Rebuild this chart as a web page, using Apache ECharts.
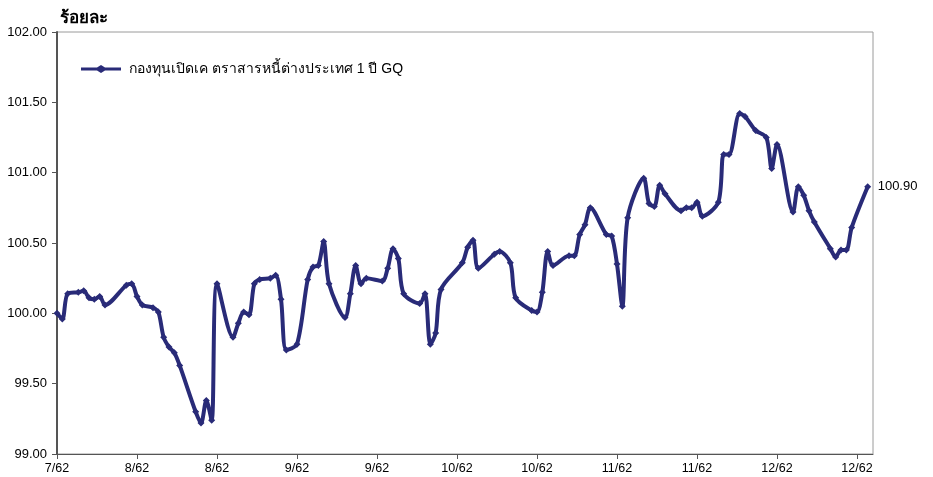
<!DOCTYPE html>
<html>
<head>
<meta charset="utf-8">
<script src="https://cdn.jsdelivr.net/npm/echarts@6/dist/echarts.min.js"></script>
<style>
html,body{margin:0;padding:0;background:#fff;}
#chart{width:933px;height:477px;}
</style>
</head>
<body>
<div id="chart"></div>
<script>
// Start of x scale (first tick) and tick step in days
const startDate = '2019-07-20';
const tickLabels = ['7/62','8/62','8/62','9/62','9/62','10/62','10/62','11/62','11/62','12/62','12/62'];

// Days after startDate of each observation
const dayOffsets = [
  0,1,2,4,5,6,7,8,9,13,14,15,16,18,19,20,21,22,23,26,27,28,29,30,
  33,34,35,36,37,38,40,41,42,43,45,47,48,49,50,51,54,55,56,57,58,
  61,62,63,64,65,68,69,70,71,72,76,77,78,79,82,83,85,86,89,90,91,92,93,
  96,97,98,99,100,103,104,105,106,107,110,111,112,113,114,117,118,119,120,121,
  124,125,126,128,129,131,133,134,135,138,139,140,141,142,145,146,147,148,149,152
];
const navValues = [
  100.00,99.96,100.14,100.15,100.16,100.11,100.10,100.12,100.06,100.20,100.21,100.12,100.06,100.04,100.01,99.83,99.76,99.72,99.63,99.30,99.22,99.38,99.24,100.21,
  99.83,99.93,100.01,99.99,100.21,100.24,100.25,100.27,100.10,99.74,99.78,100.24,100.33,100.34,100.51,100.21,99.97,100.14,100.34,100.21,100.25,
  100.23,100.32,100.46,100.39,100.14,100.07,100.14,99.78,99.86,100.17,100.36,100.47,100.52,100.32,100.42,100.44,100.36,100.11,100.02,100.01,100.15,100.44,100.34,
  100.41,100.41,100.56,100.63,100.75,100.56,100.55,100.35,100.05,100.68,100.96,100.78,100.76,100.91,100.85,100.73,100.75,100.75,100.79,100.69,
  100.79,101.13,101.13,101.42,101.40,101.30,101.25,101.03,101.20,100.72,100.90,100.84,100.73,100.65,100.46,100.40,100.45,100.45,100.61,100.90
];
const seriesName = 'กองทุนเปิดเค ตราสารหนี้ต่างประเทศ 1 ปี GQ';
const yTitle = 'ร้อยละ';

const DAY_STEP = 15;
const X_MAX = 153;
const base = Date.parse(startDate + 'T00:00:00Z');
const dates = dayOffsets.map(d => new Date(base + d * 86400000).toISOString().slice(0, 10));
const points = dates.map((s, i) => [(Date.parse(s + 'T00:00:00Z') - base) / 86400000, navValues[i]]);

const navy = '#292b78';
const font = 'Liberation Sans, Arial, sans-serif';

const chart = echarts.init(document.getElementById('chart'));
chart.setOption({
  animation: false,
  backgroundColor: '#fff',
  textStyle: { fontFamily: font },
  title: {
    text: yTitle,
    left: 55, top: 5,
    textStyle: { fontSize: 17, fontWeight: 'bold', color: '#000', fontFamily: font }
  },
  legend: {
    left: 76, top: 57,
    itemWidth: 40, itemHeight: 14, itemGap: 10,
    textStyle: { fontSize: 14, color: '#000', fontFamily: font, padding: [0, 0, 0, 3] },
    itemStyle: { color: navy },
    data: [{ name: seriesName, icon: 'path://M0,5.5 L16,5.5 L20,3 L24,5.5 L40,5.5 L40,8.5 L24,8.5 L20,11 L16,8.5 L0,8.5 Z' }]
  },
  grid: {
    left: 57, right: 60, top: 32, bottom: 23,
    show: true, borderColor: '#9a9a9a', borderWidth: 1, backgroundColor: '#fff'
  },
  xAxis: {
    type: 'value',
    min: 0, max: X_MAX, interval: DAY_STEP,
    axisLine: { show: true, lineStyle: { color: '#555', width: 1 } },
    axisTick: { show: true, length: 5, lineStyle: { color: '#555' } },
    splitLine: { show: false },
    axisLabel: {
      color: '#000', fontSize: 12.5, margin: 8, showMaxLabel: false,
      formatter: v => {
        const i = Math.round(v / DAY_STEP);
        return (v % DAY_STEP === 0 && i < tickLabels.length) ? tickLabels[i] : '';
      }
    }
  },
  yAxis: {
    type: 'value',
    min: 99, max: 102, interval: 0.5,
    axisLine: { show: true, lineStyle: { color: '#555', width: 2 } },
    axisTick: { show: true, length: 5, lineStyle: { color: '#555' } },
    splitLine: { show: false },
    axisLabel: { color: '#000', fontSize: 13, margin: 10, formatter: v => v.toFixed(2) }
  },
  series: [{
    name: seriesName,
    type: 'line',
    data: points,
    smooth: 0.3,
    symbol: 'diamond',
    symbolSize: 7,
    showSymbol: true,
    lineStyle: { color: navy, width: 4 },
    itemStyle: { color: navy },
    endLabel: {
      show: true,
      formatter: p => p.value[1].toFixed(2),
      color: '#000', fontSize: 13, distance: 10, fontFamily: font
    }
  }]
});
</script>
</body>
</html>
